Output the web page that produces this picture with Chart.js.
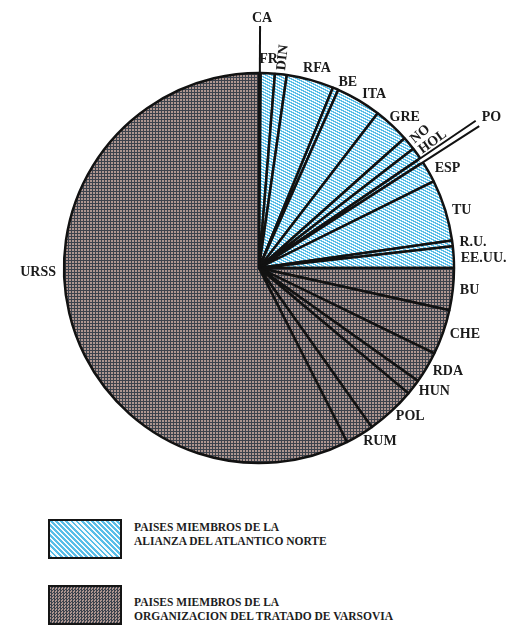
<!DOCTYPE html>
<html>
<head>
<meta charset="utf-8">
<script src="https://cdn.jsdelivr.net/npm/chart.js@4.4.1/dist/chart.umd.min.js"></script>
<style>
	body { margin: 0; background: #fff; }
	#hoja { position: relative; width: 518px; height: 625px; overflow: hidden; }
	#marco { position: absolute; left: 0; top: 0; width: 518px; height: 500px; }
	.caja { position: absolute; left: 48px; width: 74px; height: 40px; box-sizing: border-box; border: 2px solid #151515; }
	.texto { position: absolute; left: 134px; font: bold 11.5px "Liberation Serif", "DejaVu Serif", serif; line-height: 14px; color: #1d1d1d; white-space: pre; }
</style>
</head>
<body>
<div id="hoja">
	<div id="marco"><canvas id="tarta"></canvas></div>
	<div id="leyenda"></div>
</div>
<script>
var paises = ['CA', 'FR', 'DIN', 'RFA', 'BE', 'ITA', 'GRE', 'NO', 'HOL', 'PO', 'ESP', 'TU', 'R.U.', 'EE.UU.',
	'BU', 'CHE', 'RDA', 'HUN', 'POL', 'RUM', 'URSS'];
var bloque = ['OTAN', 'OTAN', 'OTAN', 'OTAN', 'OTAN', 'OTAN', 'OTAN', 'OTAN', 'OTAN', 'OTAN', 'OTAN', 'OTAN', 'OTAN', 'OTAN',
	'VARSOVIA', 'VARSOVIA', 'VARSOVIA', 'VARSOVIA', 'VARSOVIA', 'VARSOVIA', 'VARSOVIA'];
// sectores en grados
var grados = [0.5, 4.2, 3.5, 14.1, 1.7, 13.5, 10.8, 4.0, 3.5, 1.4, 6.4, 18.3, 1.7, 6.4,
	12.5, 13.5, 9.4, 4.6, 14.7, 8.5, 206.8];
var bloques = ['OTAN', 'VARSOVIA'];
var leyenda = ['PAISES MIEMBROS DE LA\nALIANZA DEL ATLANTICO NORTE', 'PAISES MIEMBROS DE LA\nORGANIZACION DEL TRATADO DE VARSOVIA'];

var radiales = ['DIN', 'NO', 'HOL'];

function tesela(w, h, color)
{
	var c = document.createElement('canvas');
	c.width = w;
	c.height = h;
	var g = c.getContext('2d');
	var img = g.createImageData(w, h);
	for (var y = 0; y < h; y++)
	{
		for (var x = 0; x < w; x++)
		{
			var rgb = color(x, y);
			var k = (y * w + x) * 4;
			img.data[k] = rgb[0];
			img.data[k + 1] = rgb[1];
			img.data[k + 2] = rgb[2];
			img.data[k + 3] = 255;
		}
	}
	g.putImageData(img, 0, 0);
	return c;
}

var ctx = document.getElementById('tarta').getContext('2d');

var rayado = ctx.createPattern(tesela(6, 3, function(x, y)
{
	var f = ((y - x * 0.5) % 3 + 3) % 3;
	return f < 1.2 ? [246, 251, 254] : [88, 190, 232];
}), 'repeat');

var punteado = ctx.createPattern(tesela(3, 3, function(x, y)
{
	return (x < 2 && y < 2) ? [174, 150, 144] : [60, 66, 76];
}), 'repeat');

var fondos = [];
for (var i = 0; i < bloque.length; i++)
{
	fondos.push(bloque[i] == 'OTAN' ? rayado : punteado);
}

var etiquetas = {
	id: 'etiquetas',
	afterDatasetsDraw: function(chart)
	{
		var c = chart.ctx;
		var arcs = chart.getDatasetMeta(0).data;
		c.save();
		c.font = 'bold 14px "Liberation Serif", "DejaVu Serif", serif';
		c.fillStyle = '#1b1b1b';
		c.strokeStyle = '#121212';
		c.lineWidth = 2;
		for (var i = 0; i < arcs.length; i++)
		{
			var a = arcs[i].getProps(['x', 'y', 'startAngle', 'endAngle', 'outerRadius'], true);
			var R = a.outerRadius;
			var mid = (a.startAngle + a.endAngle) / 2;
			var pt = function(ang, r) { return [a.x + r * Math.cos(ang), a.y + r * Math.sin(ang)]; };
			var nombre = paises[i];
			var p, q;

			if (nombre == 'CA')
			{
				p = pt(mid, R);
				q = pt(mid, R + 47);
				c.beginPath();
				c.moveTo(p[0], p[1]);
				c.lineTo(q[0], q[1]);
				c.stroke();
				p = pt(mid, R + 51);
				c.textAlign = 'center';
				c.textBaseline = 'alphabetic';
				c.fillText(nombre, p[0] + 2, p[1]);
			}
			else if (nombre == 'PO')
			{
				var a1 = pt(a.startAngle, R - 2), a2 = pt(a.startAngle, R + 67);
				var b1 = pt(a.endAngle, R - 2), b2 = pt(a.endAngle, R + 67);
				c.fillStyle = '#fff';
				c.beginPath();
				c.moveTo(a1[0], a1[1]);
				c.lineTo(a2[0], a2[1]);
				c.lineTo(b2[0], b2[1]);
				c.lineTo(b1[0], b1[1]);
				c.closePath();
				c.fill();
				c.fillStyle = '#1b1b1b';
				c.beginPath();
				c.moveTo(a1[0], a1[1]);
				c.lineTo(a2[0], a2[1]);
				c.moveTo(b1[0], b1[1]);
				c.lineTo(b2[0], b2[1]);
				c.stroke();
				p = pt(mid, R + 72);
				c.textAlign = 'left';
				c.textBaseline = 'middle';
				c.fillText(nombre, p[0], p[1] - 3);
			}
			else if (radiales.indexOf(nombre) >= 0)
			{
				p = pt(mid, R + 4);
				c.save();
				c.translate(p[0], p[1]);
				c.rotate(mid);
				c.textAlign = 'left';
				c.textBaseline = 'middle';
				c.fillText(nombre, 0, 0);
				c.restore();
			}
			else if (nombre == 'URSS')
			{
				p = pt(Math.PI, R + 8);
				c.textAlign = 'right';
				c.textBaseline = 'middle';
				c.fillText(nombre, p[0], p[1] + 4);
			}
			else
			{
				var sx = Math.cos(mid);
				if (Math.abs(sx) < 0.35)
				{
					p = pt(mid, R + 14);
					c.textAlign = 'center';
				}
				else
				{
					p = pt(mid, R + 7);
					c.textAlign = sx > 0 ? 'left' : 'right';
				}
				c.textBaseline = 'middle';
				var dy = 0, dx = 0;
				if (nombre == 'GRE') { dx = -7; dy = -3; }
				if (nombre == 'EE.UU.' || nombre == 'TU') { dy = 2; }
				if (nombre == 'RFA') { dx = 3; dy = 2; }
				c.fillText(nombre, p[0] + dx, p[1] + dy);
			}
		}
		c.restore();
	}
};

var tarta = new Chart(ctx, {
	type: 'pie',
	data: {
		labels: paises,
		datasets: [{
			data: grados,
			backgroundColor: fondos,
			borderColor: '#121212',
			borderWidth: 2.5,
			radius: 195
		}]
	},
	options: {
		responsive: true,
		maintainAspectRatio: false,
		animation: false,
		events: [],
		layout: { padding: { top: 50, bottom: 14, left: 0, right: 0 } },
		plugins: {
			legend: { display: false },
			tooltip: { enabled: false }
		}
	},
	plugins: [etiquetas]
});

// leyenda de los dos bloques
var tops = [519, 585];
var muestras = {
	'OTAN': 'repeating-linear-gradient(45deg, #58bee8 0 2px, #f6fbfe 2px 3.6px)',
	'VARSOVIA': 'repeating-conic-gradient(#3c424c 0 25%, #ae9690 0 50%) 0 0 / 3px 3px'
};
var html = '';
for (var j = 0; j < bloques.length; j++)
{
	html += '<div class="caja" style="top:' + tops[j] + 'px;background:' + muestras[bloques[j]] + '"></div>';
	html += '<div class="texto" style="top:' + (tops[j] + (j == 0 ? 1 : 10)) + 'px">' + leyenda[j] + '</div>';
}
document.getElementById('leyenda').innerHTML = html;
</script>
</body>
</html>
